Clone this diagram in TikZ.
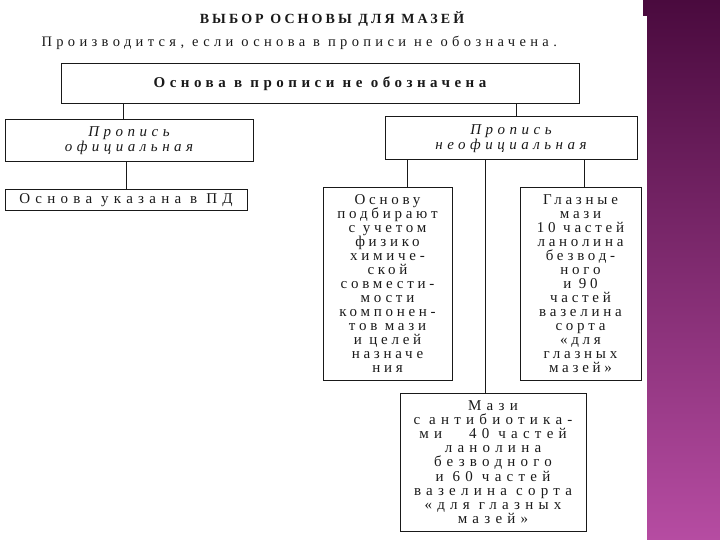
\documentclass[tikz,border=0pt]{standalone}
\usepackage{fontspec}
\setmainfont{Liberation Serif}
\newfontfamily\spaced[LetterSpace=25]{Liberation Serif}
\newfontfamily\spacedwide[LetterSpace=30]{Liberation Serif}
\newfontfamily\spacedwidest[LetterSpace=35]{Liberation Serif}
\newfontfamily\spacedhead[LetterSpace=22]{Liberation Serif}
\usetikzlibrary{positioning}
\definecolor{slidetop}{RGB}{74,10,62}
\definecolor{slidebot}{RGB}{182,76,162}
\definecolor{scan}{RGB}{25,25,25}

\begin{document}
\begin{tikzpicture}[x=1pt,y=-1pt,
  box/.style={draw=scan,line width=1pt,inner sep=0pt,align=center,text=scan,font=\spaced\fontsize{15}{14}\selectfont},
  link/.style={draw=scan,line width=1pt}]
  \useasboundingbox (0,0) rectangle (720,540);
  % Slide bar
  \shade[top color=slidetop,bottom color=slidebot] (647,0) rectangle (720,540);
  \fill[slidetop] (643,0) rectangle (647,16);
  % Heading
  \node[text=scan,font=\spacedhead\bfseries\fontsize{14}{16}\selectfont] (title) at (332,19) {ВЫБОР ОСНОВЫ ДЛЯ МАЗЕЙ};
  \node[anchor=west,text=scan,font=\spacedwide\fontsize{14.5}{16}\selectfont] (intro) at (38,43) {Производится, если основа в прописи не обозначена.};
  % Boxes
  \node[box,minimum width=518pt,minimum height=40pt,font=\spacedwide\bfseries\fontsize{15}{16}\selectfont] (root) at (320,84) {Основа в прописи не обозначена};
  \node[box,minimum width=248pt,minimum height=42pt,font=\spacedwide\itshape\fontsize{15}{15}\selectfont] (ofic) at (129,141) {Пропись\\официальная};
  \node[box,minimum width=252pt,minimum height=43pt,font=\spacedwide\itshape\fontsize{15}{15}\selectfont] (neofic) at (511,138.5) {Пропись\\неофициальная};
  \node[box,minimum width=242pt,minimum height=21pt,font=\spacedwidest\fontsize{15}{14}\selectfont] (ukaz) at (126,200.5) {Основа указана в ПД};
  \node[box,minimum width=129pt,minimum height=192pt] (podbor) at (387.5,284) {Основу\\подбирают\\с учетом\\физико\\химиче-\\ской\\совмести-\\мости\\компонен-\\тов мази\\и целей\\назначе\\ния};
  \node[box,minimum width=121pt,minimum height=192pt] (glaz) at (580.5,284) {Глазные\\мази\\10 частей\\ланолина\\безвод-\\ного\\и 90\\частей\\вазелина\\сорта\\«для\\глазных\\мазей»};
  \node[box,minimum width=186pt,minimum height=138pt,font=\spacedwidest\fontsize{15}{14.2}\selectfont] (antib) at (493,462) {Мази\\с антибиотика-\\ми\hspace{1.8em}40 частей\\ланолина\\безводного\\и 60 частей\\вазелина сорта\\«для глазных\\мазей»};
  % Links
  \draw[link] ([xshift=-6pt]ofic.north |- root.south) -- ([xshift=-6pt]ofic.north);
  \draw[link] ([xshift=5pt]neofic.north |- root.south) -- ([xshift=5pt]neofic.north);
  \draw[link] (ofic.south -| ukaz.north) -- (ukaz.north);
  \draw[link] ([xshift=19.5pt]podbor.north |- neofic.south) -- ([xshift=19.5pt]podbor.north);
  \draw[link] ([xshift=3.5pt]glaz.north |- neofic.south) -- ([xshift=3.5pt]glaz.north);
  \draw[link] ([xshift=-8pt]antib.north |- neofic.south) -- ([xshift=-8pt]antib.north);
\end{tikzpicture}
\end{document}
